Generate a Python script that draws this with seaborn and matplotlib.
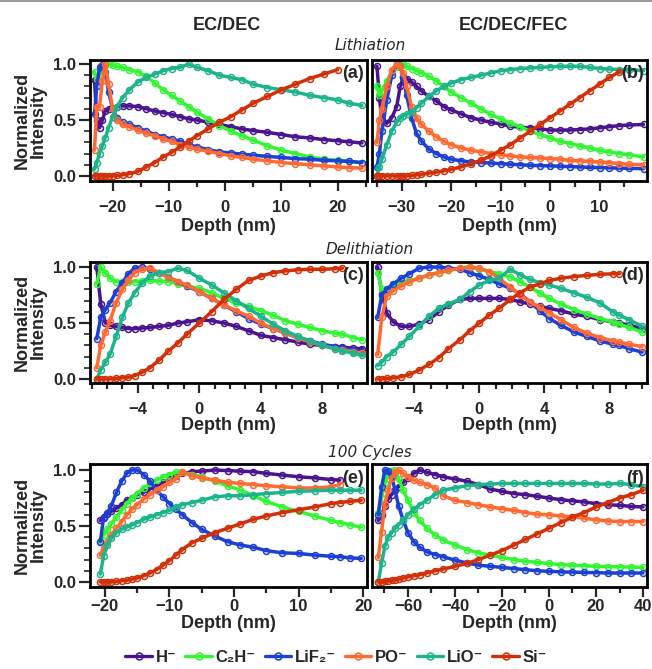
import numpy as np
import matplotlib
matplotlib.use('Agg')
import matplotlib.pyplot as plt
from matplotlib.lines import Line2D
from matplotlib.ticker import MultipleLocator, FormatStrFormatter, NullLocator
import seaborn as sns

SERIES = ['H⁻', 'C₂H⁻', 'LiF₂⁻', 'PO⁻', 'LiO⁻', 'Si⁻']
COLORS = ['#4a148f', '#33f533', '#1c3fd6', '#ff6a33', '#1db48c', '#d23008']

# ---------------- panel (a): EC/DEC lithiation ----------------
A_X = [-23.2, -22.8, -22.3, -21.8, -21.3, -20.7, -20.0, -19.2, -18.2, -17, -15.5, -14, -12.5, -11,
       -9.5, -8, -6.5, -5, -3, -1, 1, 3, 5, 7.5, 10, 12.5, 15, 17.5, 20, 22, 24.3]
A_H = [0.86, 0.5, 0.43, 0.5, 0.58, 0.6, 0.6, 0.62, 0.625, 0.625, 0.62, 0.60, 0.58, 0.565, 0.55, 0.53,
       0.51, 0.50, 0.48, 0.46, 0.44, 0.42, 0.405, 0.39, 0.37, 0.35, 0.34, 0.325, 0.315, 0.305, 0.295]
A_C2H = [0.93, 0.87, 0.9, 0.95, 0.99, 1.0, 0.99, 0.98, 0.97, 0.95, 0.93, 0.89, 0.83, 0.77, 0.72, 0.67,
         0.62, 0.57, 0.51, 0.45, 0.40, 0.36, 0.32, 0.27, 0.23, 0.20, 0.17, 0.15, 0.14, 0.13, 0.12]
A_LIF2 = [0.55, 0.8, 0.97, 0.99, 0.93, 0.75, 0.6, 0.52, 0.48, 0.46, 0.43, 0.40, 0.37, 0.35, 0.33, 0.31,
          0.28, 0.26, 0.235, 0.215, 0.205, 0.195, 0.185, 0.175, 0.165, 0.155, 0.15, 0.14, 0.135, 0.13, 0.12]
A_PO = [0.23, 0.62, 0.62, 0.85, 1.0, 0.82, 0.6, 0.5, 0.46, 0.44, 0.41, 0.38, 0.36, 0.33, 0.31, 0.28,
        0.26, 0.24, 0.22, 0.2, 0.18, 0.165, 0.15, 0.135, 0.12, 0.11, 0.1, 0.09, 0.08, 0.075, 0.07]
A_LIO = [0.06, 0.12, 0.2, 0.27, 0.34, 0.43, 0.53, 0.62, 0.7, 0.77, 0.84, 0.88, 0.91, 0.94, 0.96, 0.97,
         1.0, 0.97, 0.94, 0.90, 0.88, 0.86, 0.82, 0.79, 0.77, 0.75, 0.72, 0.70, 0.68, 0.65, 0.63]
A_SI = [0.0, 0.0, 0.0, 0.0, 0.0, 0.0, 0.0, 0.005, 0.01, 0.02, 0.04, 0.08, 0.12, 0.17, 0.21, 0.26,
        0.31, 0.36, 0.42, 0.48, 0.53, 0.59, 0.65, 0.71, 0.77, 0.82, 0.87, 0.91, 0.95, None, None]

# ---------------- panel (b): EC/DEC/FEC lithiation ----------------
B_X = [-35, -34.5, -34, -33, -32, -31, -30.3, -29.7, -29, -28, -27, -26, -24.5, -23, -21.5, -20, -18,
       -16, -14, -12, -10, -8, -6, -4, -2, 0, 2, 4, 6, 8, 10, 12, 14, 16, 18.9]
B_H = [0.98, 0.7, 0.5, 0.47, 0.52, 0.62, 0.8, 0.88, 0.87, 0.84, 0.80, 0.76, 0.71, 0.67, 0.62, 0.59,
       0.555, 0.52, 0.5, 0.48, 0.465, 0.445, 0.435, 0.43, 0.42, 0.41, 0.41, 0.41, 0.415, 0.42, 0.43,
       0.44, 0.45, 0.455, 0.46]
B_C2H = [0.80, 0.72, 0.76, 0.85, 0.93, 0.97, 0.99, 1.0, 0.98, 0.96, 0.94, 0.92, 0.89, 0.85, 0.80, 0.75,
         0.70, 0.65, 0.60, 0.55, 0.51, 0.47, 0.44, 0.40, 0.37, 0.34, 0.31, 0.29, 0.27, 0.25, 0.23,
         0.215, 0.20, 0.19, 0.17]
B_LIF2 = [0.08, 0.2, 0.4, 0.68, 0.9, 1.0, 0.98, 0.88, 0.72, 0.52, 0.38, 0.31, 0.24, 0.2, 0.17, 0.15,
          0.135, 0.125, 0.12, 0.115, 0.11, 0.105, 0.1, 0.095, 0.092, 0.09, 0.087, 0.084, 0.08, 0.077,
          0.075, 0.072, 0.07, 0.068, 0.065]
B_PO = [0.3, 0.5, 0.6, 0.8, 0.95, 1.0, 0.98, 0.92, 0.8, 0.62, 0.52, 0.46, 0.4, 0.35, 0.31, 0.28, 0.25,
        0.23, 0.215, 0.2, 0.19, 0.18, 0.17, 0.165, 0.16, 0.155, 0.15, 0.14, 0.135, 0.13, 0.125, 0.12,
        0.11, 0.105, 0.1]
B_LIO = [0.0, 0.08, 0.15, 0.28, 0.4, 0.48, 0.52, 0.54, 0.55, 0.57, 0.61, 0.65, 0.71, 0.76, 0.80, 0.83,
         0.86, 0.88, 0.9, 0.92, 0.94, 0.95, 0.96, 0.965, 0.97, 0.975, 0.98, 0.98, 0.98, 0.97, 0.96,
         0.955, 0.95, 0.95, 0.94]
B_SI = [0, 0, 0, 0, 0, 0, 0, 0, 0, 0.005, 0.01, 0.015, 0.025, 0.035, 0.045, 0.06, 0.08, 0.11, 0.14,
        0.18, 0.23, 0.28, 0.34, 0.40, 0.46, 0.52, 0.58, 0.64, 0.70, 0.76, 0.82, 0.88, 0.93, None, None]

# ---------------- panel (c): EC/DEC delithiation ----------------
C_X = [-6.66, -6.4, -6.1, -5.8, -5.4, -5.0, -4.6, -4.2, -3.7, -3.2, -2.6, -2.0, -1.4, -0.8, 0, 0.8,
       1.6, 2.4, 3.2, 4.0, 4.8, 5.6, 6.4, 7.2, 8.0, 8.8, 9.3, 10.0, 10.6]
C_H = [1.0, 0.67, 0.5, 0.48, 0.47, 0.46, 0.45, 0.45, 0.455, 0.46, 0.47, 0.48, 0.5, 0.51, 0.53, 0.52,
       0.5, 0.47, 0.43, 0.39, 0.37, 0.35, 0.33, 0.31, 0.30, 0.29, 0.285, 0.275, 0.27]
C_C2H = [0.85, 1.0, 0.95, 0.9, 0.87, 0.87, 0.87, 0.87, 0.875, 0.88, 0.875, 0.87, 0.85, 0.83, 0.81, 0.77,
         0.72, 0.68, 0.65, 0.61, 0.57, 0.52, 0.49, 0.46, 0.43, 0.41, 0.40, 0.37, 0.35]
C_LIF2 = [0.36, 0.55, 0.62, 0.68, 0.78, 0.86, 0.94, 0.99, 1.0, 0.98, 0.95, 0.91, 0.87, 0.83, 0.78, 0.72,
          0.66, 0.60, 0.54, 0.49, 0.45, 0.41, 0.37, 0.34, 0.31, 0.29, 0.275, 0.26, 0.24]
C_PO = [0.1, 0.3, 0.42, 0.52, 0.68, 0.8, 0.88, 0.95, 0.98, 0.99, 0.95, 0.91, 0.87, 0.84, 0.78, 0.72,
        0.66, 0.61, 0.56, 0.5, 0.45, 0.41, 0.37, 0.33, 0.3, 0.27, 0.26, 0.245, 0.23]
C_LIO = [0.0, 0.08, 0.15, 0.22, 0.38, 0.55, 0.68, 0.77, 0.86, 0.92, 0.95, 0.96, 0.99, 0.97, 0.9, 0.84,
         0.77, 0.7, 0.63, 0.56, 0.49, 0.43, 0.38, 0.34, 0.3, 0.27, 0.25, 0.23, 0.21]
C_SI = [0.0, 0.0, 0.0, 0.0, 0.005, 0.01, 0.015, 0.03, 0.06, 0.1, 0.17, 0.25, 0.32, 0.4, 0.5, 0.6, 0.71,
        0.8, 0.88, 0.92, 0.95, 0.965, 0.975, 0.98, 0.98, 0.985, 0.99, None, None]

# ---------------- panel (d): EC/DEC/FEC delithiation ----------------
D_X = [-6.25, -6.0, -5.7, -5.3, -4.8, -4.3, -3.7, -3.1, -2.5, -1.9, -1.2, -0.6, 0, 0.6, 1.2, 1.9, 2.5,
       3.1, 3.7, 4.3, 5.0, 5.8, 6.6, 7.4, 8.2, 8.6, 9.2, 10.0]
D_H = [1.0, 0.76, 0.59, 0.51, 0.47, 0.47, 0.49, 0.53, 0.6, 0.66, 0.71, 0.72, 0.72, 0.72, 0.72, 0.71,
       0.69, 0.67, 0.65, 0.63, 0.61, 0.58, 0.56, 0.53, 0.51, 0.5, 0.48, 0.45]
D_C2H = [0.95, 0.8, 0.8, 0.83, 0.86, 0.88, 0.9, 0.93, 0.95, 0.97, 0.99, 1.0, 0.98, 0.96, 0.94, 0.91,
         0.87, 0.82, 0.77, 0.72, 0.67, 0.62, 0.58, 0.54, 0.51, 0.49, 0.46, 0.42]
D_LIF2 = [0.55, 0.75, 0.8, 0.85, 0.9, 0.94, 0.99, 1.0, 1.0, 0.99, 0.98, 0.95, 0.92, 0.89, 0.85, 0.81,
          0.76, 0.69, 0.61, 0.54, 0.48, 0.42, 0.38, 0.34, 0.31, 0.3, 0.27, 0.24]
D_PO = [0.22, 0.55, 0.74, 0.79, 0.83, 0.87, 0.9, 0.93, 0.95, 0.97, 0.99, 1.0, 0.99, 0.96, 0.9, 0.82,
        0.75, 0.69, 0.64, 0.59, 0.53, 0.46, 0.41, 0.37, 0.34, 0.33, 0.31, 0.29]
D_LIO = [0.12, 0.15, 0.2, 0.24, 0.31, 0.38, 0.47, 0.56, 0.63, 0.67, 0.71, 0.78, 0.84, 0.88, 0.9, 0.98,
         0.93, 0.89, 0.86, 0.84, 0.81, 0.77, 0.73, 0.68, 0.6, 0.57, 0.53, 0.47]
D_SI = [0.0, 0.0, 0.005, 0.01, 0.02, 0.04, 0.08, 0.13, 0.19, 0.27, 0.35, 0.43, 0.5, 0.57, 0.63, 0.71,
        0.77, 0.82, 0.85, 0.88, 0.9, 0.915, 0.925, 0.935, 0.94, 0.94, None, None]

# ---------------- panel (e): EC/DEC 100 cycles ----------------
E_X = [-20.7, -20.2, -19.6, -19.0, -18.2, -17.4, -16.6, -15.8, -15.0, -14.0, -13.0, -12.0, -11.0,
       -10.0, -9.0, -8.0, -6.5, -5.0, -3.0, -1.0, 1.0, 3.0, 5.0, 7.5, 10.0, 12.5, 15.0, 16.4, 18.0, 19.7]
E_H = [0.55, 0.58, 0.61, 0.63, 0.66, 0.69, 0.73, 0.75, 0.78, 0.8, 0.83, 0.86, 0.89, 0.92, 0.95, 0.97,
       0.985, 0.99, 1.0, 0.995, 0.99, 0.985, 0.97, 0.955, 0.94, 0.93, 0.915, 0.91, None, None]
E_C2H = [0.37, 0.42, 0.47, 0.52, 0.58, 0.64, 0.7, 0.75, 0.79, 0.84, 0.88, 0.91, 0.94, 0.96, 0.98, 0.98,
         0.96, 0.94, 0.9, 0.86, 0.82, 0.77, 0.72, 0.67, 0.63, 0.59, 0.55, 0.53, 0.51, 0.49]
E_LIF2 = [0.36, 0.57, 0.62, 0.68, 0.8, 0.9, 0.97, 1.0, 1.0, 0.96, 0.9, 0.82, 0.76, 0.7, 0.65, 0.6,
          0.53, 0.47, 0.41, 0.36, 0.33, 0.31, 0.28, 0.26, 0.255, 0.24, 0.23, 0.225, 0.215, 0.21]
E_PO = [0.24, 0.3, 0.36, 0.42, 0.48, 0.54, 0.6, 0.65, 0.69, 0.74, 0.78, 0.82, 0.85, 0.89, 0.92, 0.98,
        0.95, 0.93, 0.91, 0.89, 0.88, 0.87, 0.86, 0.85, 0.84, 0.84, 0.85, 0.87, None, None]
E_LIO = [0.07, 0.23, 0.33, 0.39, 0.44, 0.47, 0.49, 0.51, 0.53, 0.56, 0.58, 0.6, 0.62, 0.64, 0.67, 0.69,
         0.71, 0.73, 0.76, 0.77, 0.77, 0.78, 0.79, 0.8, 0.81, 0.815, 0.82, 0.82, 0.82, 0.82]
E_SI = [0.0, 0.0, 0.0, 0.0, 0.005, 0.01, 0.015, 0.025, 0.035, 0.055, 0.08, 0.11, 0.15, 0.19, 0.24,
        0.29, 0.35, 0.39, 0.44, 0.48, 0.52, 0.56, 0.59, 0.62, 0.645, 0.67, 0.7, 0.71, 0.72, 0.73]

# ---------------- panel (f): EC/DEC/FEC 100 cycles ----------------
F_X = [-72.6, -71.2, -69.8, -68.4, -67.0, -65.5, -64.0, -62.0, -60.0, -57.5, -55.0, -52.0, -48.5,
       -45.0, -40.0, -35.0, -30.0, -25.0, -20.0, -15.0, -10.0, -5.0, 0.0, 5.0, 10.0, 15.0, 20.0, 25.0,
       30.0, 35.0, 40.0]
F_H = [0.55, 0.6, 0.68, 0.74, 0.78, 0.82, 0.85, 0.89, 0.93, 0.97, 1.0, 0.98, 0.96, 0.94, 0.92, 0.9,
       0.87, 0.83, 0.81, 0.79, 0.78, 0.765, 0.75, 0.735, 0.725, 0.715, 0.70, 0.69, 0.685, 0.675, 0.67]
F_C2H = [0.62, 0.75, 0.88, 0.96, 0.99, 1.0, 0.92, 0.82, 0.73, 0.62, 0.55, 0.48, 0.42, 0.375, 0.33, 0.29,
         0.26, 0.24, 0.22, 0.2, 0.185, 0.175, 0.165, 0.155, 0.15, 0.145, 0.14, 0.137, 0.135, 0.132, 0.13]
F_LIF2 = [0.6, 0.85, 1.0, 0.99, 0.95, 0.82, 0.68, 0.55, 0.44, 0.36, 0.31, 0.27, 0.245, 0.225, 0.195,
          0.17, 0.15, 0.14, 0.13, 0.12, 0.11, 0.1, 0.095, 0.09, 0.088, 0.085, 0.083, 0.08, 0.08, 0.08, 0.08]
F_PO = [0.22, 0.45, 0.7, 0.82, 0.93, 0.98, 1.0, 0.97, 0.94, 0.91, 0.89, 0.87, 0.84, 0.77, 0.73, 0.71,
        0.69, 0.67, 0.655, 0.64, 0.62, 0.605, 0.6, 0.59, 0.58, 0.57, 0.555, 0.545, 0.54, 0.54, 0.54]
F_LIO = [0.0, 0.17, 0.32, 0.4, 0.44, 0.48, 0.51, 0.55, 0.6, 0.65, 0.69, 0.73, 0.78, 0.82, 0.84, 0.86,
         0.87, 0.875, 0.88, 0.88, 0.88, 0.88, 0.88, 0.88, 0.88, 0.88, 0.875, 0.875, 0.88, 0.87, 0.85]
F_SI = [0.0, 0.0, 0.005, 0.01, 0.015, 0.02, 0.025, 0.035, 0.045, 0.055, 0.065, 0.08, 0.1, 0.115, 0.14,
        0.165, 0.2, 0.24, 0.28, 0.33, 0.38, 0.43, 0.48, 0.53, 0.58, 0.62, 0.67, 0.71, 0.75, 0.78, 0.82]

PANEL_LABELS = ['(a)', '(b)', '(c)', '(d)', '(e)', '(f)']
COL_TITLES = ['EC/DEC', 'EC/DEC/FEC']
ROW_TITLES = ['Lithiation', 'Delithiation', '100 Cycles']

# ---------------- style ----------------
sns.set_style('ticks')
plt.rcParams['font.family'] = ['Liberation Sans', 'DejaVu Sans']
plt.rcParams['font.weight'] = 'bold'
plt.rcParams['axes.labelweight'] = 'bold'

W, H = 652, 669
fig = plt.figure(figsize=(W / 100, H / 100), dpi=100)


def fx(px):
    return px / W


def fy(py):
    return 1 - py / H


col_px = [(90, 367), (372, 647)]
row_px = [(60, 181), (262, 383), (464, 587)]
tick_pad = [6.5, 6.5, 1.5]
label_pad = [2.0, 0.5, 1.0]

panels = [
    (A_X, [A_H, A_C2H, A_LIF2, A_PO, A_LIO, A_SI], (-24.0, 25.2), 10, 5, (-0.045, 1.036)),
    (B_X, [B_H, B_C2H, B_LIF2, B_PO, B_LIO, B_SI], (-36.0, 19.6), 10, 5, (-0.045, 1.036)),
    (C_X, [C_H, C_C2H, C_LIF2, C_PO, C_LIO, C_SI], (-7.1, 10.9), 4, 1, (-0.036, 1.045)),
    (D_X, [D_H, D_C2H, D_LIF2, D_PO, D_LIO, D_SI], (-6.6, 10.3), 4, 1, (-0.036, 1.045)),
    (E_X, [E_H, E_C2H, E_LIF2, E_PO, E_LIO, E_SI], (-22.3, 20.6), 10, 5, (-0.045, 1.054)),
    (F_X, [F_H, F_C2H, F_LIF2, F_PO, F_LIO, F_SI], (-75.3, 41.7), 20, 10, (-0.045, 1.054)),
]

for i, (xs, ys_list, xlim, major, minor, ylim) in enumerate(panels):
    r, c = divmod(i, 2)
    l, rr = col_px[c]
    t, b = row_px[r]
    ax = fig.add_axes([fx(l), fy(b), (rr - l) / W, (b - t) / H])
    x = np.array(xs, dtype=float)
    for ys, col in zip(ys_list, COLORS):
        y = np.array(ys, dtype=float)
        m = ~np.isnan(y)
        sns.lineplot(x=x[m], y=y[m], ax=ax, color=col, linewidth=2.5, marker='o',
                     markersize=4.3, markerfacecolor='none', markeredgecolor=col,
                     markeredgewidth=1.1, errorbar=None, sort=False, legend=False)
    ax.set_xlim(*xlim)
    ax.set_ylim(*ylim)
    ax.xaxis.set_major_locator(MultipleLocator(major))
    ax.xaxis.set_minor_locator(MultipleLocator(minor))
    for s in ax.spines.values():
        s.set_linewidth(2.0)
        s.set_color('black')
    ax.tick_params(axis='x', which='major', direction='out', length=7, width=1.6,
                   labelsize=12, pad=tick_pad[r])
    ax.tick_params(axis='x', which='minor', direction='out', length=4, width=1.6)
    if c == 0:
        ax.yaxis.set_major_locator(MultipleLocator(0.5))
        ax.yaxis.set_minor_locator(MultipleLocator(0.1))
        ax.tick_params(axis='y', which='major', direction='out', length=8, width=1.6,
                       labelsize=12, pad=2)
        ax.tick_params(axis='y', which='minor', direction='out', length=4, width=1.2)
        ax.yaxis.set_major_formatter(FormatStrFormatter('%.1f'))
    else:
        ax.set_yticks([])
        ax.yaxis.set_minor_locator(NullLocator())
    ax.set_ylabel('')
    ax.set_xlabel('Depth (nm)', fontsize=13, labelpad=label_pad[r])
    ax.text(0.988, 0.955, PANEL_LABELS[i], transform=ax.transAxes, ha='right', va='top',
            fontsize=13, fontweight='bold')

# y labels
for r, (t, b) in enumerate(row_px):
    fig.text(fx(30), fy((t + b) / 2), 'Normalized\nIntensity', rotation=90, ha='center',
             va='center', fontsize=13, fontweight='bold', linespacing=0.95)

# column titles
fig.text(fx(227), fy(25), COL_TITLES[0], ha='center', va='center', fontsize=13, fontweight='bold')
fig.text(fx(513), fy(25), COL_TITLES[1], ha='center', va='center', fontsize=13, fontweight='bold')

# row titles
for (py, name) in zip([45, 250, 452], ROW_TITLES):
    fig.text(fx(370), fy(py), name, ha='center', va='center', fontsize=11,
             fontweight='normal', style='italic', family=['DejaVu Sans'])

# legend
handles = [Line2D([0], [0], color=cc, lw=2.4, marker='o', markersize=5, markerfacecolor='none',
                  markeredgecolor=cc, markeredgewidth=1.1) for cc in COLORS]
fig.legend(handles, SERIES, loc='center', bbox_to_anchor=(fx(336), fy(657)), ncol=6,
           frameon=False, fontsize=12, handlelength=1.6, handletextpad=0.2,
           columnspacing=0.55, borderaxespad=0)

# thin top border line
fig.add_artist(Line2D([0, 1], [1 - 0.8 / H, 1 - 0.8 / H], color='#888888', lw=1.2,
                      transform=fig.transFigure))

fig.savefig('out.png', dpi=100)
